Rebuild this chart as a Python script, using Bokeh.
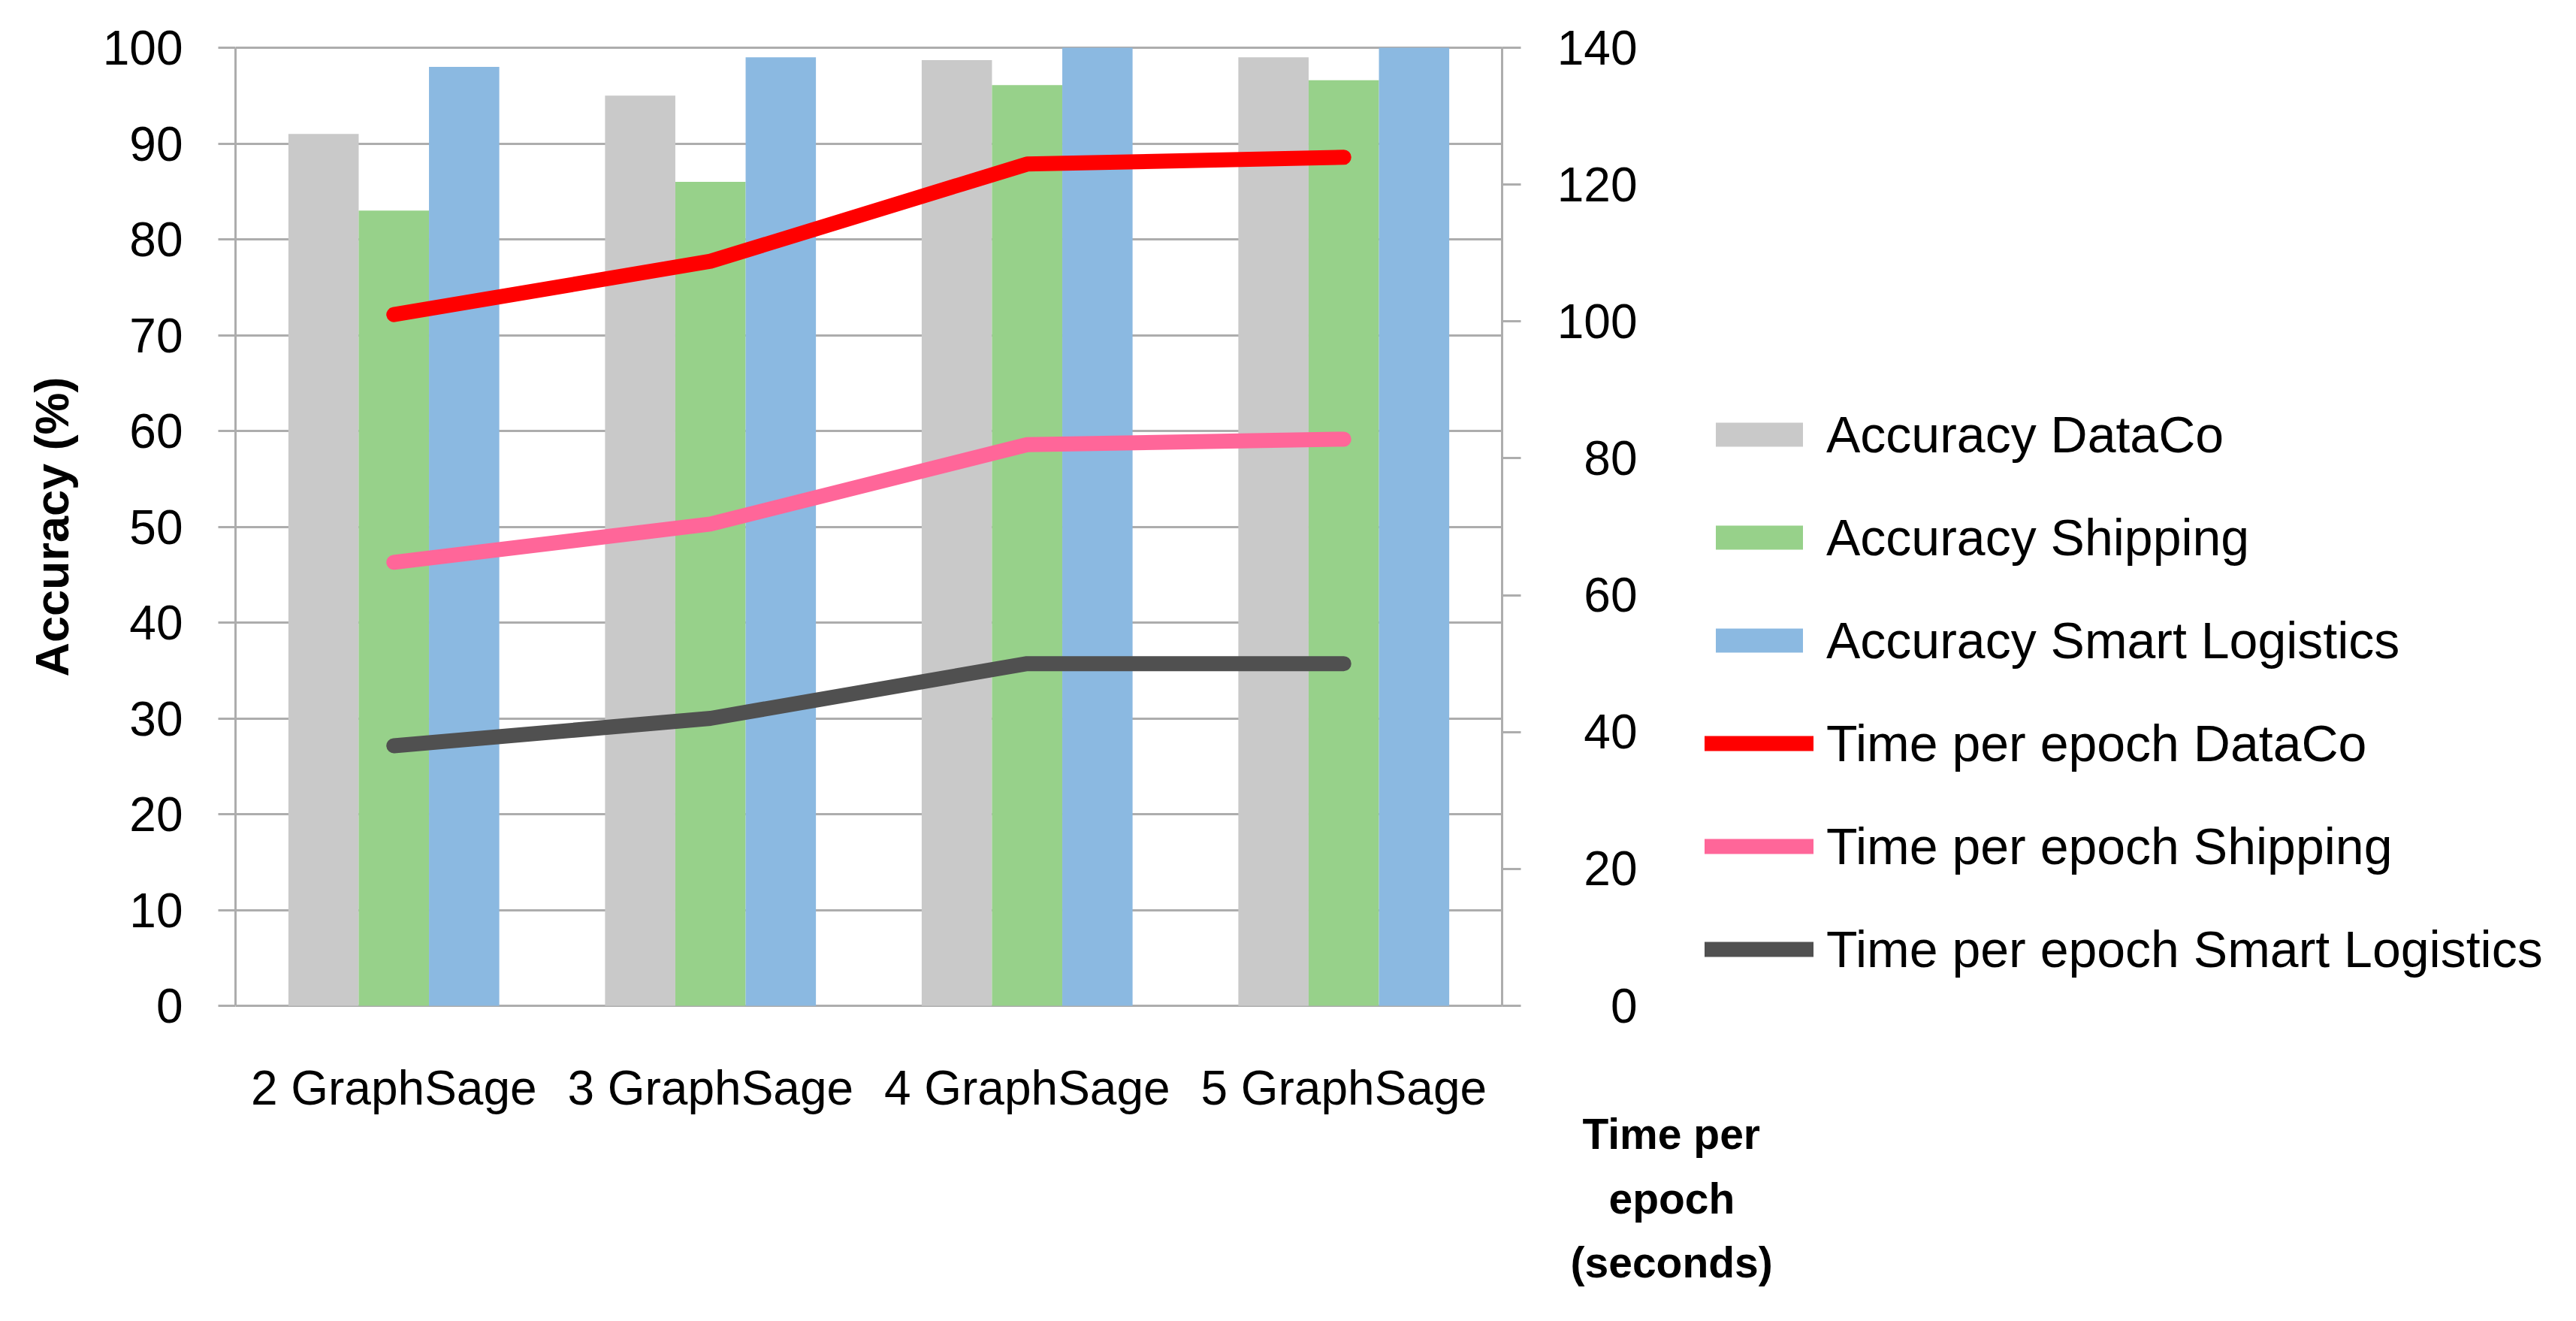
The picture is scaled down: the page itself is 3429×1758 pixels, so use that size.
from bokeh.plotting import figure
from bokeh.models import (Range1d, LinearAxis, FixedTicker, Legend, LegendItem, Title,
                          ColumnDataSource, BoxAnnotation)
from bokeh.transform import dodge
from bokeh.embed import file_html
from bokeh.resources import INLINE

# ---------------- data ----------------
categories = ["2 GraphSage", "3 GraphSage", "4 GraphSage", "5 GraphSage"]
acc_dataco = [91, 95, 98.7, 99]
acc_shipping = [83, 86, 96.1, 96.6]
acc_smart = [98, 99, 100, 100]
time_dataco = [101, 108.8, 123, 124]
time_shipping = [64.8, 70.4, 82, 82.8]
time_smart = [38, 42, 50, 50]
left_ticks = [0, 10, 20, 30, 40, 50, 60, 70, 80, 90, 100]
right_ticks = [0, 20, 40, 60, 80, 100, 120, 140]
legend_labels = ["Accuracy DataCo", "Accuracy Shipping", "Accuracy Smart Logistics",
                 "Time per epoch DataCo", "Time per epoch Shipping",
                 "Time per epoch Smart Logistics"]
right_title_lines = ["Time per", "epoch", "(seconds)"]

# ---------------- styles ----------------
FONT = "Liberation Sans"
GRID = "#ADADAD"
C_GRAY = "#C9C9C9"
C_GREEN = "#97D18A"
C_BLUE = "#8BB9E1"
C_RED = "#FF0000"
C_PINK = "#FF6699"
C_DARK = "#505050"

n_cat = len(categories)
x_pos = [i + 0.5 for i in range(n_cat)]          # category centres on a numeric axis
src = ColumnDataSource(dict(x=x_pos, a1=acc_dataco, a2=acc_shipping, a3=acc_smart,
                            t1=time_dataco, t2=time_shipping, t3=time_smart))
empty = ColumnDataSource(dict(x=[], y=[]))

W, H = 3413, 1742
FL = 313
PLOT_TOP, PLOT_BOTTOM = 63, 1338          # pixel rows of 100 % and 0 %
PAD = 50                                  # frame padding so edge tick labels are not clipped
px_per_unit = (PLOT_BOTTOM - PLOT_TOP) / 100.0
pad_u = PAD / px_per_unit
PX_PER_CAT = 421.5
x_end = (W - FL) / PX_PER_CAT             # frame spans to the right edge (legend lives inside)
acc_max, time_max = left_ticks[-1], right_ticks[-1]
ratio = time_max / acc_max

p = figure(width=W, height=H, output_backend="svg", toolbar_location=None,
           x_range=Range1d(0, x_end), y_range=Range1d(-pad_u, acc_max + pad_u),
           min_border_left=FL, min_border_right=0, min_border_top=PLOT_TOP - PAD,
           min_border_bottom=H - (PLOT_BOTTOM + PAD))
p.extra_y_ranges = {"time": Range1d(-pad_u * ratio, time_max + pad_u * ratio)}
p.outline_line_color = None
p.background_fill_color = "white"
p.border_fill_color = "white"

# grid (hidden to the right of the category area by a white underlay box)
p.xgrid.grid_line_color = None
p.ygrid.grid_line_color = GRID
p.ygrid.grid_line_width = 3
p.ygrid.ticker = FixedTicker(ticks=left_ticks)
p.add_layout(BoxAnnotation(left=n_cat, fill_color="white", fill_alpha=1.0,
                           line_color=None, level="underlay"))

bw = 0.222
r1 = p.vbar(x=dodge("x", -bw), top="a1", width=bw, source=src,
            fill_color=C_GRAY, line_color=None)
r2 = p.vbar(x=dodge("x", 0), top="a2", width=bw, source=src,
            fill_color=C_GREEN, line_color=None)
r3 = p.vbar(x=dodge("x", bw), top="a3", width=bw, source=src,
            fill_color=C_BLUE, line_color=None)

l1 = p.line(x="x", y="t1", source=src, y_range_name="time", line_color=C_RED,
            line_width=20, line_cap="round", line_join="round")
l2 = p.line(x="x", y="t2", source=src, y_range_name="time", line_color=C_PINK,
            line_width=20, line_cap="round", line_join="round")
l3 = p.line(x="x", y="t3", source=src, y_range_name="time", line_color=C_DARK,
            line_width=20, line_cap="round", line_join="round")

# legend swatches for the bars (full-size rectangles drawn as thick butt-capped lines)
sw1 = p.line(x="x", y="y", source=empty, line_color=C_GRAY, line_width=40, line_cap="butt")
sw2 = p.line(x="x", y="y", source=empty, line_color=C_GREEN, line_width=40, line_cap="butt")
sw3 = p.line(x="x", y="y", source=empty, line_color=C_BLUE, line_width=40, line_cap="butt")

def style_axis(ax):
    ax.axis_line_color = GRID
    ax.axis_line_width = 3
    ax.major_tick_line_color = GRID
    ax.major_tick_line_width = 3
    ax.minor_tick_line_color = None
    ax.major_tick_in = 0
    ax.major_label_text_font = FONT
    ax.major_label_text_font_size = "64px"
    ax.major_label_text_color = "#000000"

# left axis
ya = p.yaxis[0]
style_axis(ya)
ya.ticker = FixedTicker(ticks=left_ticks)
ya.bounds = (0, acc_max)
ya.major_tick_out = 23
ya.major_label_standoff = 47
ya.axis_label = "Accuracy (%)"
ya.axis_label_text_font = FONT
ya.axis_label_text_font_style = "bold"
ya.axis_label_text_font_size = "63px"
ya.axis_label_text_color = "#000000"
ya.axis_label_standoff = 30

# bottom axis (categories); its baseline is the 0 % grid line
xa = p.xaxis[0]
style_axis(xa)
xa.axis_line_color = None
xa.ticker = FixedTicker(ticks=x_pos)
xa.major_label_overrides = {x: c for x, c in zip(x_pos, categories)}
xa.major_tick_out = 0
xa.major_tick_line_color = None
xa.major_label_standoff = 73 - PAD

# secondary (time) axis, drawn at the right edge of the category area
ra = LinearAxis(y_range_name="time", ticker=FixedTicker(ticks=right_ticks),
                fixed_location=n_cat, bounds=(0, time_max))
style_axis(ra)
ra.major_tick_out = 0
ra.major_tick_in = 25
ra.major_label_standoff = -180
ra.major_label_overrides = {t: "\u2007" * (3 - len(str(t))) + str(t) for t in right_ticks}
p.add_layout(ra, "left")

# secondary axis title, three lines below it
title_left = [2106, 2141, 2090]
title_valign = ["top", "bottom", "bottom"]
title_standoff = [-20, 56, -18]
for txt, lx, va, so in zip(right_title_lines, title_left, title_valign, title_standoff):
    p.add_layout(Title(text=txt, align="left", offset=lx - FL, vertical_align=va,
                       text_font=FONT, text_font_style="bold", text_font_size="57px",
                       text_color="#000000", standoff=so), "below")

# legend
items = [LegendItem(label=lab, renderers=rs) for lab, rs in
         zip(legend_labels, [[sw1, r1], [sw2, r2], [sw3, r3], [l1], [l2], [l3]])]
legend = Legend(items=items, location=(1956, 85), orientation="vertical",
                glyph_width=145, glyph_height=40, label_height=80, spacing=57,
                label_standoff=17, padding=0, margin=0,
                label_text_font=FONT, label_text_font_size="68px",
                label_text_color="#000000",
                border_line_color=None, background_fill_alpha=0)
p.add_layout(legend, "center")

open("out.html", "w").write(file_html(p, INLINE))
